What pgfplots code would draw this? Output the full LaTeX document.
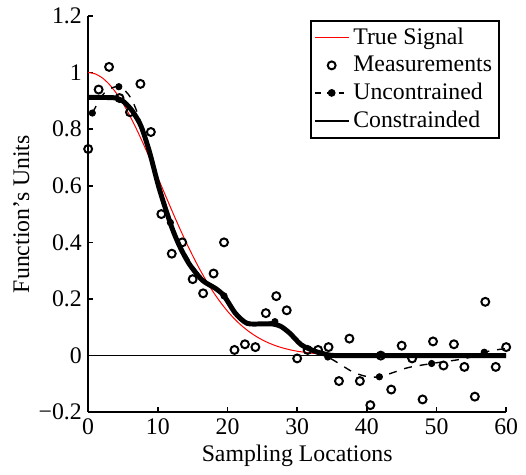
\documentclass[border=0pt]{standalone}
\usepackage{fontspec}
\setmainfont{Liberation Serif}
\usepackage{pgfplots}
\pgfplotsset{compat=1.18}

\begin{document}
\fontsize{12}{14}\selectfont
\begin{tikzpicture}
\begin{axis}[
  scale only axis,
  width=211pt, height=200pt,
  xmin=0, xmax=60, ymin=-0.2, ymax=1.2,
  axis x line=bottom, axis y line=left,
  axis line style={-, line width=1pt},
  tick align=inside, major tick length=2.5pt,
  tick style={line width=0.8pt, black},
  xtick={0,10,20,30,40,50,60},
  xticklabels={0,10,20,30,40,50,60},
  ytick={-0.2,0,0.2,0.4,0.6,0.8,1,1.2},
  yticklabels={−0.2,0,0.2,0.4,0.6,0.8,1,1.2},
  tick label style={font=\fontsize{12}{12}\selectfont},
  xticklabel style={yshift=1pt},
  yticklabel style={xshift=1pt},
  xlabel={Sampling Locations}, ylabel={Function's Units},
  label style={font=\fontsize{12}{12}\selectfont},
  xlabel style={yshift=3pt},
  ylabel style={yshift=-3.5pt},
  legend style={at={(0.985,0.99)}, anchor=north east, draw=black,
    line width=1pt, font=\fontsize{12}{13}\selectfont, inner sep=1.5pt},
  legend cell align=left,
  clip=false,
]
% keep a margin at the left like the original
\path (rel axis cs:0,0) -- ++(-44.5pt,0);

% zero line
\addplot[black, line width=0.4pt, forget plot] coordinates {(0,0) (60,0)};

% true signal
\addplot[red, line width=0.5pt, smooth] coordinates {
(0,1.000) (1,0.9954) (2,0.9817) (3,0.9592) (4,0.9286) (5,0.8907) (6,0.8465)
(7,0.7970) (8,0.7436) (9,0.6873) (10,0.6294) (11,0.5711) (12,0.5134)
(13,0.4573) (14,0.4036) (15,0.3529) (16,0.3057) (17,0.2624) (18,0.2231)
(19,0.1880) (20,0.1569) (21,0.1298) (22,0.1064) (23,0.0864) (24,0.0695)
(25,0.0554) (26,0.0437) (27,0.0342) (28,0.0265) (29,0.0204) (30,0.0155)
(32,0.0087) (34,0.0047) (36,0.0025) (40,0.0006) (45,0.0001) (50,0) (60,0)};
\addlegendentry{True Signal}

% measurements
\addplot[only marks, mark=o, mark size=2pt, line width=1pt, black] coordinates {
(0,0.73) (1.5,0.94) (3,1.02) (4.5,0.91) (6,0.86) (7.5,0.96) (9,0.79)
(10.5,0.50) (12,0.36) (13.5,0.40) (15,0.27) (16.5,0.22) (18,0.29)
(19.5,0.40) (21,0.02) (22.5,0.04) (24,0.03) (25.5,0.15) (27,0.21)
(28.5,0.16) (30,-0.01) (31.5,0.02) (33,0.02) (34.5,0.03) (36,-0.09)
(37.5,0.06) (39,-0.09) (40.5,-0.175) (42,0.0) (43.5,-0.12) (45,0.035)
(46.5,-0.01) (48,-0.155) (49.5,0.05) (51,-0.035) (52.5,0.04) (54,-0.04)
(55.5,-0.145) (57,0.19) (58.5,-0.04) (60,0.03)};
\addlegendentry{Measurements}

% unconstrained estimate
\addplot[black, line width=0.7pt, dash pattern=on 4pt off 4pt, smooth, forget plot] coordinates {
(0.6,0.857) (2.4,0.93) (4.4,0.95) (6.2,0.907) (8,0.79) (10,0.6) (11.8,0.47)
(13.5,0.38) (15.5,0.3) (17.5,0.25) (19.5,0.211) (21.5,0.14) (23.5,0.11)
(25,0.11) (26.8,0.12) (28.7,0.085) (30.6,0.038) (32.5,0.015) (34.4,-0.005)
(36,-0.028) (38,-0.058) (40,-0.074) (41.8,-0.075) (44,-0.058) (46,-0.042)
(49.3,-0.028) (51,-0.022) (53,-0.015) (55,-0.005) (56.85,0.012) (58.5,0.02)
(60,0.025)};
\addplot[only marks, mark=*, mark size=1.6pt, black, forget plot] coordinates {
(0.6,0.857) (4.4,0.95) (11.8,0.47) (19.5,0.211) (26.8,0.12) (34.4,-0.005)
(41.8,-0.075) (49.3,-0.028) (56.85,0.012)};
\addlegendimage{black, line width=0.7pt, dash pattern=on 3pt off 3pt,
  mark=*, mark size=1.6pt, mark options={solid}}
\addlegendentry{Uncontrained}

% constrained estimate
\addplot[black, line width=2.5pt, smooth, tension=0.45, legend image post style={line width=0.8pt}] coordinates {
(0,0.912) (2,0.912) (4,0.91) (5.2,0.895) (6.4,0.862) (7.6,0.81) (8.8,0.72)
(10.2,0.59) (11.9,0.46) (13.1,0.388) (14.5,0.324) (16.4,0.266) (18.3,0.237)
(19.5,0.211) (21.15,0.149) (22.8,0.114) (24.9,0.112) (26.4,0.112)
(27.6,0.104) (28.9,0.080) (30.6,0.038) (32.5,0.016) (34.4,0.003) (36,0) (45,0) (60,0)};
\addlegendentry{Constrainded}
\end{axis}
\end{tikzpicture}
\end{document}
